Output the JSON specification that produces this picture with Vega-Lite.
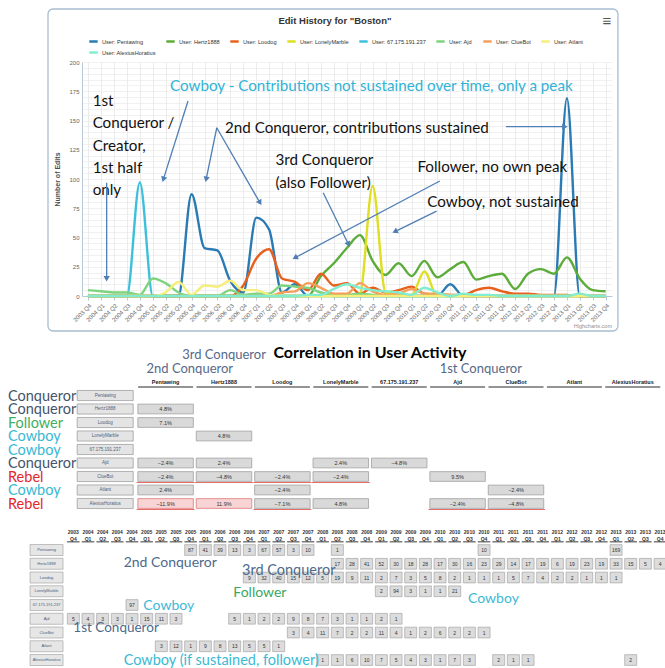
{
  "$schema": "https://vega.github.io/schema/vega-lite/v6.json",
  "padding": {"left": 8, "top": 8, "right": 0, "bottom": 0},
  "spacing": 10,
  "bounds": "flush",
  "resolve": {"scale": {"color": "independent", "fill": "independent"}, "legend": {"color": "independent", "fill": "independent"}},
  "config": {"view": {"stroke": null}, "font": "Liberation Sans"},
  "datasets": {
    "cells": [
      {"user":"Pentawing","q":"2005 Q4","edits":87},{"user":"Pentawing","q":"2006 Q1","edits":41},{"user":"Pentawing","q":"2006 Q2","edits":39},{"user":"Pentawing","q":"2006 Q3","edits":13},{"user":"Pentawing","q":"2006 Q4","edits":3},{"user":"Pentawing","q":"2007 Q1","edits":67},{"user":"Pentawing","q":"2007 Q2","edits":57},{"user":"Pentawing","q":"2007 Q3","edits":3},{"user":"Pentawing","q":"2007 Q4","edits":10},{"user":"Pentawing","q":"2008 Q2","edits":1},{"user":"Pentawing","q":"2010 Q4","edits":10},{"user":"Pentawing","q":"2013 Q1","edits":169},
      {"user":"Hertz1888","q":"2008 Q2","edits":17},{"user":"Hertz1888","q":"2008 Q3","edits":28},{"user":"Hertz1888","q":"2008 Q4","edits":41},{"user":"Hertz1888","q":"2009 Q1","edits":52},{"user":"Hertz1888","q":"2009 Q2","edits":30},{"user":"Hertz1888","q":"2009 Q3","edits":18},{"user":"Hertz1888","q":"2009 Q4","edits":28},{"user":"Hertz1888","q":"2010 Q1","edits":17},{"user":"Hertz1888","q":"2010 Q2","edits":30},{"user":"Hertz1888","q":"2010 Q3","edits":16},{"user":"Hertz1888","q":"2010 Q4","edits":23},{"user":"Hertz1888","q":"2011 Q1","edits":29},{"user":"Hertz1888","q":"2011 Q2","edits":14},{"user":"Hertz1888","q":"2011 Q3","edits":17},{"user":"Hertz1888","q":"2011 Q4","edits":19},{"user":"Hertz1888","q":"2012 Q1","edits":6},{"user":"Hertz1888","q":"2012 Q2","edits":19},{"user":"Hertz1888","q":"2012 Q3","edits":23},{"user":"Hertz1888","q":"2012 Q4","edits":19},{"user":"Hertz1888","q":"2013 Q1","edits":33},{"user":"Hertz1888","q":"2013 Q2","edits":15},{"user":"Hertz1888","q":"2013 Q3","edits":5},{"user":"Hertz1888","q":"2013 Q4","edits":4},
      {"user":"Loodog","q":"2006 Q4","edits":9},{"user":"Loodog","q":"2007 Q1","edits":32},{"user":"Loodog","q":"2007 Q2","edits":40},{"user":"Loodog","q":"2007 Q3","edits":15},{"user":"Loodog","q":"2007 Q4","edits":12},{"user":"Loodog","q":"2008 Q1","edits":5},{"user":"Loodog","q":"2008 Q2","edits":19},{"user":"Loodog","q":"2008 Q3","edits":9},{"user":"Loodog","q":"2008 Q4","edits":11},{"user":"Loodog","q":"2009 Q1","edits":2},{"user":"Loodog","q":"2009 Q2","edits":7},{"user":"Loodog","q":"2009 Q3","edits":3},{"user":"Loodog","q":"2009 Q4","edits":5},{"user":"Loodog","q":"2010 Q1","edits":8},{"user":"Loodog","q":"2010 Q2","edits":2},{"user":"Loodog","q":"2010 Q3","edits":1},{"user":"Loodog","q":"2010 Q4","edits":1},{"user":"Loodog","q":"2011 Q1","edits":1},{"user":"Loodog","q":"2011 Q2","edits":5},{"user":"Loodog","q":"2011 Q3","edits":7},{"user":"Loodog","q":"2011 Q4","edits":4},{"user":"Loodog","q":"2012 Q1","edits":2},{"user":"Loodog","q":"2012 Q2","edits":2},{"user":"Loodog","q":"2012 Q3","edits":1},{"user":"Loodog","q":"2012 Q4","edits":1},{"user":"Loodog","q":"2013 Q1","edits":1},
      {"user":"LonelyMarble","q":"2009 Q1","edits":2},{"user":"LonelyMarble","q":"2009 Q2","edits":94},{"user":"LonelyMarble","q":"2009 Q3","edits":3},{"user":"LonelyMarble","q":"2009 Q4","edits":1},{"user":"LonelyMarble","q":"2010 Q1","edits":1},{"user":"LonelyMarble","q":"2010 Q2","edits":21},
      {"user":"67.175.191.237","q":"2004 Q4","edits":97},
      {"user":"Ajd","q":"2003 Q4","edits":5},{"user":"Ajd","q":"2004 Q1","edits":4},{"user":"Ajd","q":"2004 Q2","edits":3},{"user":"Ajd","q":"2004 Q3","edits":3},{"user":"Ajd","q":"2004 Q4","edits":1},{"user":"Ajd","q":"2005 Q1","edits":15},{"user":"Ajd","q":"2005 Q2","edits":11},{"user":"Ajd","q":"2005 Q3","edits":3},{"user":"Ajd","q":"2006 Q3","edits":5},{"user":"Ajd","q":"2006 Q4","edits":1},{"user":"Ajd","q":"2007 Q1","edits":2},{"user":"Ajd","q":"2007 Q2","edits":2},{"user":"Ajd","q":"2007 Q3","edits":9},{"user":"Ajd","q":"2007 Q4","edits":8},{"user":"Ajd","q":"2008 Q1","edits":7},{"user":"Ajd","q":"2008 Q2","edits":3},{"user":"Ajd","q":"2008 Q3","edits":1},{"user":"Ajd","q":"2008 Q4","edits":1},{"user":"Ajd","q":"2009 Q1","edits":2},{"user":"Ajd","q":"2009 Q2","edits":1},
      {"user":"ClueBot","q":"2007 Q3","edits":3},{"user":"ClueBot","q":"2007 Q4","edits":4},{"user":"ClueBot","q":"2008 Q1","edits":11},{"user":"ClueBot","q":"2008 Q2","edits":7},{"user":"ClueBot","q":"2008 Q3","edits":2},{"user":"ClueBot","q":"2008 Q4","edits":2},{"user":"ClueBot","q":"2009 Q1","edits":11},{"user":"ClueBot","q":"2009 Q2","edits":4},{"user":"ClueBot","q":"2009 Q3","edits":1},{"user":"ClueBot","q":"2009 Q4","edits":2},{"user":"ClueBot","q":"2010 Q1","edits":6},{"user":"ClueBot","q":"2010 Q2","edits":2},{"user":"ClueBot","q":"2010 Q3","edits":2},{"user":"ClueBot","q":"2010 Q4","edits":1},
      {"user":"Atlant","q":"2005 Q2","edits":3},{"user":"Atlant","q":"2005 Q3","edits":12},{"user":"Atlant","q":"2005 Q4","edits":1},{"user":"Atlant","q":"2006 Q1","edits":9},{"user":"Atlant","q":"2006 Q2","edits":8},{"user":"Atlant","q":"2006 Q3","edits":13},{"user":"Atlant","q":"2006 Q4","edits":5},{"user":"Atlant","q":"2007 Q1","edits":5},{"user":"Atlant","q":"2007 Q2","edits":1},
      {"user":"AlexiusHoratius","q":"2008 Q1","edits":1},{"user":"AlexiusHoratius","q":"2008 Q2","edits":1},{"user":"AlexiusHoratius","q":"2008 Q3","edits":6},{"user":"AlexiusHoratius","q":"2008 Q4","edits":10},{"user":"AlexiusHoratius","q":"2009 Q1","edits":7},{"user":"AlexiusHoratius","q":"2009 Q2","edits":5},{"user":"AlexiusHoratius","q":"2009 Q3","edits":4},{"user":"AlexiusHoratius","q":"2009 Q4","edits":3},{"user":"AlexiusHoratius","q":"2010 Q1","edits":1},{"user":"AlexiusHoratius","q":"2010 Q2","edits":7},{"user":"AlexiusHoratius","q":"2010 Q3","edits":3},{"user":"AlexiusHoratius","q":"2011 Q1","edits":2},{"user":"AlexiusHoratius","q":"2011 Q2","edits":1},{"user":"AlexiusHoratius","q":"2011 Q3","edits":1},{"user":"AlexiusHoratius","q":"2013 Q2","edits":2}
    ],
    "quarters": [
      {"q":"2003 Q4"},{"q":"2004 Q1"},{"q":"2004 Q2"},{"q":"2004 Q3"},{"q":"2004 Q4"},{"q":"2005 Q1"},{"q":"2005 Q2"},{"q":"2005 Q3"},{"q":"2005 Q4"},{"q":"2006 Q1"},{"q":"2006 Q2"},{"q":"2006 Q3"},{"q":"2006 Q4"},{"q":"2007 Q1"},{"q":"2007 Q2"},{"q":"2007 Q3"},{"q":"2007 Q4"},{"q":"2008 Q1"},{"q":"2008 Q2"},{"q":"2008 Q3"},{"q":"2008 Q4"},{"q":"2009 Q1"},{"q":"2009 Q2"},{"q":"2009 Q3"},{"q":"2009 Q4"},{"q":"2010 Q1"},{"q":"2010 Q2"},{"q":"2010 Q3"},{"q":"2010 Q4"},{"q":"2011 Q1"},{"q":"2011 Q2"},{"q":"2011 Q3"},{"q":"2011 Q4"},{"q":"2012 Q1"},{"q":"2012 Q2"},{"q":"2012 Q3"},{"q":"2012 Q4"},{"q":"2013 Q1"},{"q":"2013 Q2"},{"q":"2013 Q3"},{"q":"2013 Q4"}
    ],
    "users": [
      {"user":"Pentawing","role":"Conqueror"},{"user":"Hertz1888","role":"Conqueror"},{"user":"Loodog","role":"Follower"},{"user":"LonelyMarble","role":"Cowboy"},{"user":"67.175.191.237","role":"Cowboy"},{"user":"Ajd","role":"Conqueror"},{"user":"ClueBot","role":"Rebel"},{"user":"Atlant","role":"Cowboy"},{"user":"AlexiusHoratius","role":"Rebel"}
    ],
    "corr": [
      {"row":"Hertz1888","col":"Pentawing","v":0.048},
      {"row":"Loodog","col":"Pentawing","v":0.071},
      {"row":"LonelyMarble","col":"Hertz1888","v":0.048},
      {"row":"Ajd","col":"Pentawing","v":-0.024},{"row":"Ajd","col":"Hertz1888","v":0.024},{"row":"Ajd","col":"LonelyMarble","v":0.024},{"row":"Ajd","col":"67.175.191.237","v":-0.048},
      {"row":"ClueBot","col":"Pentawing","v":-0.024},{"row":"ClueBot","col":"Hertz1888","v":-0.048},{"row":"ClueBot","col":"Loodog","v":-0.024},{"row":"ClueBot","col":"LonelyMarble","v":-0.024},{"row":"ClueBot","col":"Ajd","v":0.095},
      {"row":"Atlant","col":"Pentawing","v":0.024},{"row":"Atlant","col":"Loodog","v":-0.024},{"row":"Atlant","col":"ClueBot","v":-0.024},
      {"row":"AlexiusHoratius","col":"Pentawing","v":-0.119},{"row":"AlexiusHoratius","col":"Hertz1888","v":0.119},{"row":"AlexiusHoratius","col":"Loodog","v":-0.071},{"row":"AlexiusHoratius","col":"LonelyMarble","v":0.048},{"row":"AlexiusHoratius","col":"Ajd","v":-0.024},{"row":"AlexiusHoratius","col":"ClueBot","v":-0.048}
    ],
    "underlines": [
      {"row":"ClueBot","col":"Pentawing"},{"row":"ClueBot","col":"Hertz1888"},{"row":"ClueBot","col":"Loodog"},{"row":"ClueBot","col":"LonelyMarble"},
      {"row":"AlexiusHoratius","col":"Pentawing"},{"row":"AlexiusHoratius","col":"Loodog"},{"row":"AlexiusHoratius","col":"Ajd"},{"row":"AlexiusHoratius","col":"ClueBot"}
    ],
    "one": [{}]
  },
  "vconcat": [
    {
      "width": 530,
      "height": 234,
      "layer": [
        {
          "data": {"name": "one"},
          "mark": {"type": "rect", "fill": "transparent", "stroke": "#a9bdd1", "strokeWidth": 1.3, "cornerRadius": 5},
          "encoding": {
            "x": {"datum": {"year": 2002, "month": 12, "date": 23}, "type": "temporal"},
            "x2": {"datum": {"year": 2013, "month": 12, "date": 27}},
            "y": {"datum": 245.3, "type": "quantitative"},
            "y2": {"datum": -29.9}
          }
        },
        {
          "data": {"name": "cells"},
          "transform": [
            {"impute": "edits", "key": "q", "groupby": ["user"], "value": 0},
            {"calculate": "time(datetime(toNumber(substring(datum.q,0,4)), (toNumber(substring(datum.q,6,7))-1)*3, 1))", "as": "date"}
          ],
          "mark": {"type": "line", "interpolate": "monotone", "strokeWidth": 2.4},
          "encoding": {
            "x": {
              "field": "date", "type": "temporal",
              "scale": {"domain": [{"year": 2003, "month": 8, "date": 20}, {"year": 2013, "month": 11, "date": 15}]},
              "axis": {"format": "%Y Q%q", "tickCount": {"interval": "month", "step": 3}, "labelAngle": -45, "labelFontSize": 6, "labelColor": "#666666", "grid": true, "gridColor": "#e4e4e4", "gridWidth": 0.7, "domainColor": "#b8c8d8", "tickColor": "#b8c8d8", "tickSize": 4, "title": null, "labelPadding": 2, "labelOverlap": false, "labelFlush": false}
            },
            "y": {
              "field": "edits", "type": "quantitative",
              "scale": {"domain": [0, 200]},
              "axis": {"tickCount": 40, "labelExpr": "datum.value % 25 === 0 ? datum.label : ''", "labelOverlap": false, "labelFontSize": 6, "labelColor": "#666666", "ticks": false, "domain": true, "domainColor": "#b8c8d8", "grid": true, "gridColor": "#e8e8e8", "gridWidth": 0.6, "title": "Number of Edits", "titleFontSize": 7, "titleFontWeight": "bold", "titleColor": "#4d4d4d", "titlePadding": 8, "labelPadding": 3}
            },
            "color": {
              "field": "user", "type": "nominal",
              "scale": {"domain": ["Pentawing","Hertz1888","Loodog","LonelyMarble","67.175.191.237","Ajd","ClueBot","Atlant","AlexiusHoratius"], "range": ["#2a7ab4","#5cac3a","#e8601c","#dede22","#3ec0dc","#7ed47e","#f5a05a","#f5ee7a","#82eccf"]},
              "legend": {"orient": "top", "direction": "horizontal", "columns": 8, "gridAlign": "none", "title": null, "symbolType": "stroke", "symbolStrokeWidth": 2.5, "symbolSize": 70, "labelFontSize": 5.6, "labelColor": "#333333", "labelExpr": "'User: ' + datum.label", "columnPadding": 5, "rowPadding": 0, "padding": 6, "offset": -2, "labelLimit": 200, "labelOffset": 3}
            }
          }
        },
        {
          "data": {"name": "one"},
          "mark": {"type": "text", "text": "Edit History for \"Boston\"", "align": "center", "baseline": "middle", "font": "Liberation Sans", "fontSize": 9.5, "fontWeight": "bold", "color": "#333333"},
          "encoding": {"x": {"datum": {"year": 2008, "month": 7, "date": 9}, "type": "temporal"}, "y": {"datum": 235, "type": "quantitative"}}
        },
        {
          "data": {"name": "one"},
          "mark": {"type": "text", "text": "Cowboy - Contributions not sustained over time, only a peak", "align": "left", "baseline": "middle", "font": "Lato", "fontSize": 15.2, "color": "#2fb3d6"},
          "encoding": {"x": {"datum": {"year": 2005, "month": 5, "date": 2}, "type": "temporal"}, "y": {"datum": 179.5, "type": "quantitative"}}
        },
        {
          "data": {"name": "one"},
          "mark": {"type": "text", "text": ["1st", "Conqueror /", "Creator,", "1st half", "only"], "align": "left", "baseline": "top", "lineHeight": 22.3, "font": "Lato", "fontSize": 15.2, "color": "#111111"},
          "encoding": {"x": {"datum": {"year": 2003, "month": 11, "date": 3}, "type": "temporal"}, "y": {"datum": 172.6, "type": "quantitative"}}
        },
        {
          "data": {"name": "one"},
          "mark": {"type": "text", "text": "2nd Conqueror, contributions sustained", "align": "left", "baseline": "middle", "font": "Lato", "fontSize": 15.2, "color": "#111111"},
          "encoding": {"x": {"datum": {"year": 2006, "month": 5, "date": 25}, "type": "temporal"}, "y": {"datum": 143.8, "type": "quantitative"}}
        },
        {
          "data": {"name": "one"},
          "mark": {"type": "text", "text": ["3rd Conqueror", "(also Follower)"], "align": "left", "baseline": "top", "lineHeight": 22.3, "font": "Lato", "fontSize": 15.2, "color": "#111111"},
          "encoding": {"x": {"datum": {"year": 2007, "month": 5, "date": 16}, "type": "temporal"}, "y": {"datum": 121.8, "type": "quantitative"}}
        },
        {
          "data": {"name": "one"},
          "mark": {"type": "text", "text": "Follower, no own peak", "align": "left", "baseline": "middle", "font": "Lato", "fontSize": 15.2, "color": "#111111"},
          "encoding": {"x": {"datum": {"year": 2010, "month": 2, "date": 11}, "type": "temporal"}, "y": {"datum": 110.3, "type": "quantitative"}}
        },
        {
          "data": {"name": "one"},
          "mark": {"type": "text", "text": "Cowboy, not sustained", "align": "left", "baseline": "middle", "font": "Lato", "fontSize": 15.2, "color": "#111111"},
          "encoding": {"x": {"datum": {"year": 2010, "month": 4, "date": 21}, "type": "temporal"}, "y": {"datum": 80.6, "type": "quantitative"}}
        },
        {"data": {"name": "one"}, "mark": {"type": "rule", "color": "#4f7fb5", "strokeWidth": 1.3}, "encoding": {"x": {"datum": {"year": 2004, "month": 2, "date": 10}, "type": "temporal"}, "x2": {"datum": {"year": 2004, "month": 2, "date": 10}}, "y": {"datum": 96.8, "type": "quantitative"}, "y2": {"datum": 14.8}}},
        {"data": {"name": "one"}, "mark": {"type": "rule", "color": "#4f7fb5", "strokeWidth": 1.3}, "encoding": {"x": {"datum": {"year": 2005, "month": 9, "date": 6}, "type": "temporal"}, "x2": {"datum": {"year": 2005, "month": 3, "date": 16}}, "y": {"datum": 166.7, "type": "quantitative"}, "y2": {"datum": 99.7}}},
        {"data": {"name": "one"}, "mark": {"type": "rule", "color": "#4f7fb5", "strokeWidth": 1.3}, "encoding": {"x": {"datum": {"year": 2006, "month": 3, "date": 28}, "type": "temporal"}, "x2": {"datum": {"year": 2006, "month": 1, "date": 12}}, "y": {"datum": 143.8, "type": "quantitative"}, "y2": {"datum": 99.7}}},
        {"data": {"name": "one"}, "mark": {"type": "rule", "color": "#4f7fb5", "strokeWidth": 1.3}, "encoding": {"x": {"datum": {"year": 2006, "month": 3, "date": 28}, "type": "temporal"}, "x2": {"datum": {"year": 2007, "month": 1, "date": 27}}, "y": {"datum": 143.8, "type": "quantitative"}, "y2": {"datum": 79.7}}},
        {"data": {"name": "one"}, "mark": {"type": "rule", "color": "#4f7fb5", "strokeWidth": 1.3}, "encoding": {"x": {"datum": {"year": 2008, "month": 4, "date": 17}, "type": "temporal"}, "x2": {"datum": {"year": 2008, "month": 10, "date": 12}}, "y": {"datum": 88.3, "type": "quantitative"}, "y2": {"datum": 44.2}}},
        {"data": {"name": "one"}, "mark": {"type": "rule", "color": "#4f7fb5", "strokeWidth": 1.3}, "encoding": {"x": {"datum": {"year": 2010, "month": 7, "date": 19}, "type": "temporal"}, "x2": {"datum": {"year": 2007, "month": 10, "date": 1}}, "y": {"datum": 98.3, "type": "quantitative"}, "y2": {"datum": 32.7}}},
        {"data": {"name": "one"}, "mark": {"type": "rule", "color": "#4f7fb5", "strokeWidth": 1.3}, "encoding": {"x": {"datum": {"year": 2010, "month": 6, "date": 26}, "type": "temporal"}, "x2": {"datum": {"year": 2009, "month": 9, "date": 5}}, "y": {"datum": 72.6, "type": "quantitative"}, "y2": {"datum": 55.0}}},
        {"data": {"name": "one"}, "mark": {"type": "rule", "color": "#4f7fb5", "strokeWidth": 1.3}, "encoding": {"x": {"datum": {"year": 2011, "month": 10, "date": 28}, "type": "temporal"}, "x2": {"datum": {"year": 2012, "month": 12, "date": 18}}, "y": {"datum": 144.7, "type": "quantitative"}, "y2": {"datum": 144.7}}},
        {"data": {"name": "one"}, "mark": {"type": "point", "shape": "triangle-up", "filled": true, "size": 40, "color": "#4f7fb5", "opacity": 1, "angle": 180}, "encoding": {"x": {"datum": {"year": 2004, "month": 2, "date": 10}, "type": "temporal"}, "y": {"datum": 14.8, "type": "quantitative"}}},
        {"data": {"name": "one"}, "mark": {"type": "point", "shape": "triangle-up", "filled": true, "size": 40, "color": "#4f7fb5", "opacity": 1, "angle": 198}, "encoding": {"x": {"datum": {"year": 2005, "month": 3, "date": 16}, "type": "temporal"}, "y": {"datum": 99.7, "type": "quantitative"}}},
        {"data": {"name": "one"}, "mark": {"type": "point", "shape": "triangle-up", "filled": true, "size": 40, "color": "#4f7fb5", "opacity": 1, "angle": 192}, "encoding": {"x": {"datum": {"year": 2006, "month": 1, "date": 12}, "type": "temporal"}, "y": {"datum": 99.7, "type": "quantitative"}}},
        {"data": {"name": "one"}, "mark": {"type": "point", "shape": "triangle-up", "filled": true, "size": 40, "color": "#4f7fb5", "opacity": 1, "angle": 150}, "encoding": {"x": {"datum": {"year": 2007, "month": 1, "date": 27}, "type": "temporal"}, "y": {"datum": 79.7, "type": "quantitative"}}},
        {"data": {"name": "one"}, "mark": {"type": "point", "shape": "triangle-up", "filled": true, "size": 40, "color": "#4f7fb5", "opacity": 1, "angle": 154}, "encoding": {"x": {"datum": {"year": 2008, "month": 10, "date": 12}, "type": "temporal"}, "y": {"datum": 44.2, "type": "quantitative"}}},
        {"data": {"name": "one"}, "mark": {"type": "point", "shape": "triangle-up", "filled": true, "size": 40, "color": "#4f7fb5", "opacity": 1, "angle": 242}, "encoding": {"x": {"datum": {"year": 2007, "month": 10, "date": 1}, "type": "temporal"}, "y": {"datum": 32.7, "type": "quantitative"}}},
        {"data": {"name": "one"}, "mark": {"type": "point", "shape": "triangle-up", "filled": true, "size": 40, "color": "#4f7fb5", "opacity": 1, "angle": 244}, "encoding": {"x": {"datum": {"year": 2009, "month": 9, "date": 5}, "type": "temporal"}, "y": {"datum": 55.0, "type": "quantitative"}}},
        {"data": {"name": "one"}, "mark": {"type": "point", "shape": "triangle-up", "filled": true, "size": 40, "color": "#4f7fb5", "opacity": 1, "angle": 90}, "encoding": {"x": {"datum": {"year": 2012, "month": 12, "date": 18}, "type": "temporal"}, "y": {"datum": 144.7, "type": "quantitative"}}},
        {
          "data": {"name": "one"},
          "mark": {"type": "text", "text": "Highcharts.com", "align": "right", "baseline": "middle", "fontSize": 5.5, "color": "#909090"},
          "encoding": {"x": {"datum": {"year": 2013, "month": 11, "date": 15}, "type": "temporal"}, "y": {"datum": -25.6, "type": "quantitative"}}
        },
        {
          "data": {"name": "one"},
          "mark": {"type": "text", "text": "≡", "align": "center", "baseline": "middle", "fontSize": 15, "color": "#555555"},
          "encoding": {"x": {"datum": {"year": 2013, "month": 10, "date": 10}, "type": "temporal"}, "y": {"datum": 235, "type": "quantitative"}}
        }
      ]
    },
    {
      "width": 580,
      "height": 200,
      "encoding": {
        "x": {"field": "col", "type": "nominal", "scale": {"domain": ["_role","_btn","Pentawing","Hertz1888","Loodog","LonelyMarble","67.175.191.237","Ajd","ClueBot","Atlant","AlexiusHoratius"], "range": [-62.4, 580], "paddingInner": 0, "paddingOuter": 0}, "axis": null},
        "y": {"field": "row", "type": "nominal", "scale": {"domain": ["_a1","_a2","_hdr","Pentawing","Hertz1888","Loodog","LonelyMarble","67.175.191.237","Ajd","ClueBot","Atlant","AlexiusHoratius"], "range": [42.25, 204.25], "paddingInner": 0, "paddingOuter": 0}, "axis": null}
      },
      "layer": [
        {
          "data": {"name": "corr"},
          "mark": {"type": "rect", "width": {"band": 0.95}, "height": {"band": 0.72}, "strokeWidth": 0.8},
          "encoding": {
            "fill": {"condition": {"test": "abs(datum.v) >= 0.1", "value": "#f8d4d4"}, "value": "#d9d9d9"},
            "stroke": {"condition": {"test": "abs(datum.v) >= 0.1", "value": "#e07878"}, "value": "#a0a0a0"}
          }
        },
        {
          "data": {"name": "corr"},
          "mark": {"type": "text", "fontSize": 5.5, "color": "#333333"},
          "encoding": {"text": {"field": "v", "type": "quantitative", "format": ".1%"}}
        },
        {
          "data": {"name": "users"},
          "mark": {"type": "rect", "width": 56, "height": {"band": 0.75}, "xOffset": -2, "fill": "#e4e4e4", "stroke": "#a0a0a0", "strokeWidth": 0.8},
          "encoding": {"x": {"datum": "_btn", "type": "nominal"}, "y": {"field": "user", "type": "nominal"}}
        },
        {
          "data": {"name": "users"},
          "mark": {"type": "text", "fontSize": 4.5, "color": "#4a5f80", "xOffset": -2},
          "encoding": {"x": {"datum": "_btn", "type": "nominal"}, "y": {"field": "user", "type": "nominal"}, "text": {"field": "user"}}
        },
        {
          "data": {"name": "users"},
          "mark": {"type": "text", "fontSize": 5.5, "fontWeight": "bold", "color": "#222222"},
          "encoding": {"x": {"field": "user", "type": "nominal"}, "y": {"datum": "_hdr", "type": "nominal"}, "text": {"field": "user"}}
        },
        {
          "data": {"name": "users"},
          "mark": {"type": "tick", "orient": "horizontal", "size": 55, "thickness": 1.5, "color": "#333333", "yOffset": 5},
          "encoding": {"x": {"field": "user", "type": "nominal"}, "y": {"datum": "_hdr", "type": "nominal"}}
        },
        {
          "data": {"name": "users"},
          "mark": {"type": "text", "align": "left", "baseline": "middle", "font": "Lato", "fontSize": 14.5, "dx": -11.6, "dy": 1},
          "encoding": {
            "x": {"datum": "_role", "type": "nominal", "bandPosition": 0},
            "y": {"field": "user", "type": "nominal"},
            "text": {"field": "role"},
            "fill": {"field": "role", "type": "nominal", "scale": {"domain": ["Conqueror","Follower","Cowboy","Rebel"], "range": ["#44546a","#3fae5e","#38b8d4","#e2272d"]}, "legend": null}
          }
        },
        {
          "data": {"name": "underlines"},
          "mark": {"type": "tick", "orient": "horizontal", "size": 58, "thickness": 1.2, "color": "#d9302c", "yOffset": 6}
        },
        {
          "data": {"name": "one"},
          "mark": {"type": "text", "text": "Correlation in User Activity", "align": "center", "baseline": "middle", "font": "Lato", "fontSize": 16, "fontWeight": "bold", "color": "#000000", "dy": -2},
          "encoding": {"x": {"datum": "67.175.191.237", "type": "nominal", "bandPosition": 0}, "y": {"datum": "_a1", "type": "nominal"}}
        },
        {
          "data": {"name": "one"},
          "mark": {"type": "text", "text": "3rd Conqueror", "align": "center", "baseline": "middle", "font": "Lato", "fontSize": 13, "color": "#56698a"},
          "encoding": {"x": {"datum": "Hertz1888", "type": "nominal"}, "y": {"datum": "_a1", "type": "nominal"}}
        },
        {
          "data": {"name": "one"},
          "mark": {"type": "text", "text": "2nd Conqueror", "align": "center", "baseline": "middle", "font": "Lato", "fontSize": 13, "color": "#56698a", "dx": -5},
          "encoding": {"x": {"datum": "Hertz1888", "type": "nominal", "bandPosition": 0}, "y": {"datum": "_a2", "type": "nominal"}}
        },
        {
          "data": {"name": "one"},
          "mark": {"type": "text", "text": "1st Conqueror", "align": "center", "baseline": "middle", "font": "Lato", "fontSize": 13, "color": "#56698a", "dx": -6},
          "encoding": {"x": {"datum": "ClueBot", "type": "nominal", "bandPosition": 0}, "y": {"datum": "_a2", "type": "nominal"}}
        }
      ]
    },
    {
      "width": 585,
      "height": 150,
      "encoding": {
        "x": {"field": "q", "type": "nominal", "scale": {"range": [-16.0, 585.4], "paddingInner": 0, "paddingOuter": 0}, "axis": null},
        "y": {"field": "user", "type": "nominal", "scale": {"domain": ["_hdr","Pentawing","Hertz1888","Loodog","LonelyMarble","67.175.191.237","Ajd","ClueBot","Atlant","AlexiusHoratius"], "range": [13.4, 150.9], "paddingInner": 0, "paddingOuter": 0}, "axis": null}
      },
      "layer": [
        {
          "data": {"name": "cells"},
          "mark": {"type": "rect", "width": {"band": 0.82}, "height": {"band": 0.78}, "fill": "#dcdcdc", "stroke": "#9a9a9a", "strokeWidth": 0.6}
        },
        {
          "data": {"name": "cells"},
          "mark": {"type": "text", "fontSize": 5, "color": "#333333"},
          "encoding": {"text": {"field": "edits", "type": "quantitative"}}
        },
        {
          "data": {"name": "quarters"},
          "mark": {"type": "text", "lineBreak": " ", "lineHeight": 7, "fontSize": 5, "fontWeight": "bold", "color": "#333333", "baseline": "middle", "dy": -4.25},
          "encoding": {"y": {"datum": "_hdr", "type": "nominal"}, "text": {"field": "q"}}
        },
        {
          "data": {"name": "quarters"},
          "mark": {"type": "tick", "orient": "horizontal", "size": 12.5, "thickness": 1.5, "color": "#444444", "yOffset": 5.5},
          "encoding": {"y": {"datum": "_hdr", "type": "nominal"}}
        },
        {
          "data": {"name": "users"},
          "mark": {"type": "rect", "width": 33, "height": {"band": 0.8}, "xOffset": -26.8, "fill": "#e6e6e6", "stroke": "#9a9a9a", "strokeWidth": 0.6},
          "encoding": {"x": {"datum": "2003 Q4", "type": "nominal"}}
        },
        {
          "data": {"name": "users"},
          "mark": {"type": "text", "fontSize": 4, "color": "#4a5f80", "xOffset": -26.8},
          "encoding": {"x": {"datum": "2003 Q4", "type": "nominal"}, "text": {"field": "user"}}
        },
        {
          "data": {"name": "one"},
          "mark": {"type": "text", "text": "2nd Conqueror", "align": "left", "baseline": "middle", "font": "Lato", "fontSize": 14, "color": "#4d6a8c", "dx": -1, "dy": -1},
          "encoding": {"x": {"datum": "2004 Q4", "type": "nominal", "bandPosition": 0}, "y": {"datum": "Hertz1888", "type": "nominal"}}
        },
        {
          "data": {"name": "one"},
          "mark": {"type": "text", "text": "3rd Conqueror", "align": "left", "baseline": "middle", "font": "Lato", "fontSize": 14.5, "color": "#4d6a8c", "dy": 7},
          "encoding": {"x": {"datum": "2006 Q4", "type": "nominal", "bandPosition": 0}, "y": {"datum": "Hertz1888", "type": "nominal"}}
        },
        {
          "data": {"name": "one"},
          "mark": {"type": "text", "text": "Follower", "align": "left", "baseline": "middle", "font": "Lato", "fontSize": 14, "color": "#3aa860", "dx": 6, "dy": 2},
          "encoding": {"x": {"datum": "2006 Q3", "type": "nominal", "bandPosition": 0}, "y": {"datum": "LonelyMarble", "type": "nominal"}}
        },
        {
          "data": {"name": "one"},
          "mark": {"type": "text", "text": "Cowboy", "align": "left", "baseline": "middle", "font": "Lato", "fontSize": 14, "color": "#3bb9d5", "dx": 4, "dy": 1},
          "encoding": {"x": {"datum": "2005 Q1", "type": "nominal", "bandPosition": 0}, "y": {"datum": "67.175.191.237", "type": "nominal"}}
        },
        {
          "data": {"name": "one"},
          "mark": {"type": "text", "text": "Cowboy", "align": "left", "baseline": "middle", "font": "Lato", "fontSize": 14, "color": "#3bb9d5", "dx": 6, "dy": 8},
          "encoding": {"x": {"datum": "2010 Q3", "type": "nominal", "bandPosition": 0}, "y": {"datum": "LonelyMarble", "type": "nominal"}}
        },
        {
          "data": {"name": "one"},
          "mark": {"type": "text", "text": "1st Conqueror", "align": "left", "baseline": "middle", "font": "Lato", "fontSize": 13.5, "color": "#4d6a8c", "dy": 9},
          "encoding": {"x": {"datum": "2003 Q4", "type": "nominal"}, "y": {"datum": "Ajd", "type": "nominal"}}
        },
        {
          "data": {"name": "one"},
          "mark": {"type": "text", "text": "Cowboy (if sustained, follower)", "align": "left", "baseline": "middle", "font": "Lato", "fontSize": 14.5, "color": "#3bb9d5", "dx": -1, "dy": 1},
          "encoding": {"x": {"datum": "2004 Q4", "type": "nominal", "bandPosition": 0}, "y": {"datum": "AlexiusHoratius", "type": "nominal"}}
        }
      ]
    }
  ]
}
